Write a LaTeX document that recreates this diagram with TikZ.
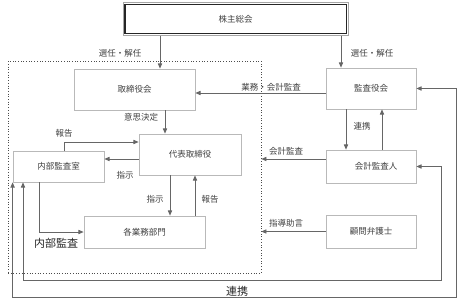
\documentclass[tikz,border=0pt]{standalone}
\usepackage{fontspec}
\setmainfont{Noto Sans CJK JP}
\usepackage{xcolor}
\usetikzlibrary{arrows.meta,positioning,calc}

\begin{document}
\begin{tikzpicture}[x=1pt, y=-1pt,
    block/.style={rectangle, draw=gray!55, line width=0.8pt, fill=white, inner sep=1pt, align=center, font=\fontsize{8.5}{10}\selectfont, text=black!75},
    arrow/.style={-{Triangle[length=1.8mm, width=1.5mm]}, draw=black!60, line width=0.7pt},
    both/.style={{Triangle[length=1.8mm, width=1.5mm]}-{Triangle[length=1.8mm, width=1.5mm]}, draw=black!60, line width=0.7pt},
    lbl/.style={inner sep=1pt, font=\fontsize{8.5}{10}\selectfont, text=black!75},
    biglbl/.style={inner sep=1pt, font=\fontsize{11}{12}\selectfont, text=black!85}
]
\useasboundingbox (0,0) rectangle (463,303);

% company area
\node[draw=black!70, dotted, line width=0.7pt, minimum width=253pt, minimum height=212pt] (company) at (134.5,167) {};

\node[block, draw=gray!70, minimum width=225pt, minimum height=33pt] (share) at (235.5,19) {株主総会};
\draw[black!85, line width=1.2pt] ([xshift=2.3pt,yshift=-2.3pt]share.north west) rectangle ([xshift=-2.3pt,yshift=2.3pt]share.south east);
\node[block, minimum width=121pt, minimum height=41pt] (board)      at (134.5,89.5) {取締役会};
\node[block, minimum width=90pt,  minimum height=41pt] (auditors)   at (371,88.5)   {監査役会};
\node[block, minimum width=102pt, minimum height=41pt] (ceo)        at (190,154.5)  {代表取締役};
\node[block, minimum width=91pt,  minimum height=31pt] (internal)   at (58.5,166.5) {内部監査室};
\node[block, minimum width=121pt, minimum height=32pt] (depts)      at (144.5,232)  {各業務部門};
\node[block, minimum width=90pt,  minimum height=33pt] (accountant) at (371,166.5)  {\hspace{10pt}会計監査人};
\node[block, minimum width=90pt,  minimum height=33pt] (lawyer)     at (371,231.5)  {顧問弁護士};

\coordinate (loopin)  at (441,280);
\coordinate (loopout) at (456,297);

% arrows
\draw[arrow] ([xshift=25.5pt]board.north |- share.south) -- ([xshift=25.5pt]board.north);
\draw[arrow] ([xshift=-30pt]auditors.north |- share.south) -- ([xshift=-30pt]auditors.north);
\draw[arrow] ([yshift=-4.5pt]auditors.west) -- ([yshift=-4.5pt]auditors.west -| board.east);
\draw[arrow] ([xshift=30.5pt]board.south) -- ([xshift=30.5pt]board.south |- ceo.north);
\draw[arrow] ([xshift=5.5pt]internal.north) |- ([yshift=12.5pt]ceo.west);
\draw[arrow] ([yshift=-4.5pt]ceo.west) -- ([yshift=-4.5pt]ceo.west -| internal.east);
\draw[arrow] ([xshift=-20pt]ceo.south) -- ([xshift=-20pt]ceo.south |- depts.north);
\draw[arrow] ([xshift=50.5pt]depts.north) -- ([xshift=50.5pt]depts.north |- ceo.south);
\draw[arrow] ([xshift=-19.5pt]internal.south) |- (depts.west);
\draw[arrow] ([xshift=-25pt]auditors.south) -- ([xshift=-25pt]auditors.south |- accountant.north);
\draw[arrow] ([xshift=11pt]accountant.north) -- ([xshift=11pt]accountant.north |- auditors.south);
\draw[arrow] ([yshift=7.5pt]accountant.west) -- ([yshift=7.5pt]accountant.west -| company.east);
\draw[arrow] (lawyer.west) -- (lawyer.west -| company.east);
\draw[both] ([xshift=-35.5pt]internal.south) |- (loopin) |- (accountant.east);
\draw[both] (internal.south west) |- (loopout) |- (auditors.east);

% labels
\node[lbl] (elect1)  at (120,53)  {選任・解任};
\node[lbl] (elect2)  at (372,53)  {選任・解任};
\node[lbl] (audit1)  at (271,87)  {業務・会計監査};
\node[lbl] (decide)  at (141,117) {意思決定};
\node[lbl] (report1) at (64,133)  {報告};
\node[lbl] (order1)  at (125,175) {指示};
\node[lbl] (order2)  at (155,199) {指示};
\node[lbl] (report2) at (210,199) {報告};
\node[lbl] (coop1)   at (362,126) {連携};
\node[lbl] (audit2)  at (286,151) {会計監査};
\node[lbl] (advice)  at (286,223) {指導助言};
\node[biglbl] (inaudit) at (56,243)  {内部監査};
\node[biglbl] (coop2)   at (237,291) {連携};
\end{tikzpicture}
\end{document}
